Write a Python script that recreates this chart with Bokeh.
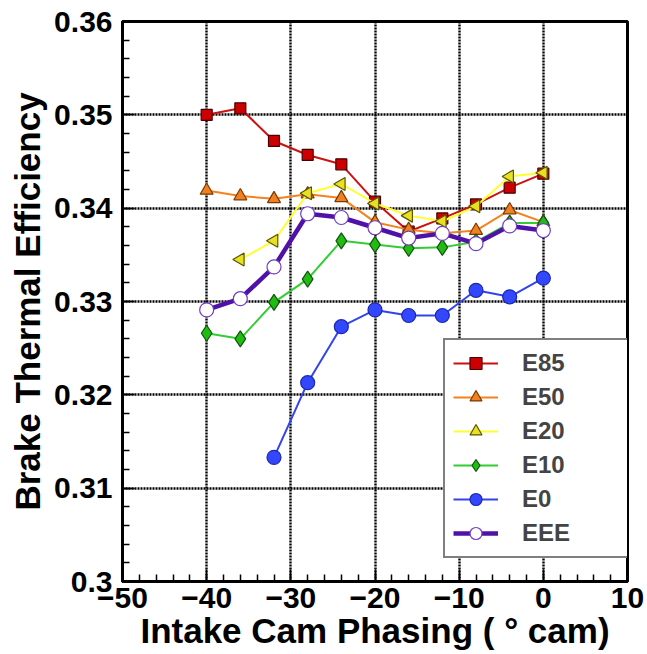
import numpy as np
from bokeh.plotting import figure
from bokeh.models import FixedTicker, NumeralTickFormatter, Legend, LegendItem
from bokeh.embed import file_html
from bokeh.resources import INLINE

# ---- data ----
x_full = [-40, -36, -32, -28, -24, -20, -16, -12, -8, -4, 0]
x_e20 = [-36, -32, -28, -24, -20, -16, -12, -8, -4, 0]
x_e0 = [-32, -28, -24, -20, -16, -12, -8, -4, 0]

e85 = [0.3500, 0.3507, 0.3472, 0.3457, 0.3447, 0.3407, 0.3375, 0.3389, 0.3404, 0.3422, 0.3437]
e50 = [0.3419, 0.3413, 0.3410, 0.3415, 0.3411, 0.3385, 0.3377, 0.3373, 0.3376, 0.3398, 0.3385]
e20 = [0.3345, 0.3365, 0.3416, 0.3426, 0.3405, 0.3392, 0.3386, 0.3402, 0.3434, 0.3438]
e10 = [0.3266, 0.3260, 0.3299, 0.3324, 0.3365, 0.3361, 0.3357, 0.3358, 0.3364, 0.3384, 0.3384]
e0 = [0.3133, 0.3213, 0.3273, 0.3291, 0.3285, 0.3285, 0.3312, 0.3305, 0.3325]
eee = [0.3291, 0.3303, 0.3337, 0.3394, 0.3390, 0.3379, 0.3368, 0.3373, 0.3362, 0.3381, 0.3376]

x_ticks = [-50, -40, -30, -20, -10, 0, 10]
x_minor = [v for v in range(-50, 11, 2)]
y_ticks = [0.30, 0.31, 0.32, 0.33, 0.34, 0.35, 0.36]
y_minor = [round(0.30 + 0.002 * i, 3) for i in range(31)]

FONT = "Liberation Sans"

p = figure(width=645, height=652, x_range=(-50, 10), y_range=(0.30, 0.36),
           output_backend="svg", toolbar_location=None,
           min_border_left=122, min_border_right=18, min_border_top=21, min_border_bottom=71)

p.background_fill_color = "white"
p.border_fill_color = "white"
p.outline_line_color = "black"
p.outline_line_width = 3
p.outline_line_alpha = 1.0

for ax in (p.xaxis[0], p.yaxis[0]):
    ax.axis_line_width = 3
    ax.axis_line_color = "black"
    ax.major_tick_in = 12
    ax.major_tick_out = 0
    ax.minor_tick_in = 7
    ax.minor_tick_out = 0
    ax.major_tick_line_width = 1.5
    ax.minor_tick_line_width = 1.5
    ax.major_tick_line_color = "black"
    ax.minor_tick_line_color = "black"
    ax.major_label_text_font = FONT
    ax.major_label_text_font_style = "bold"
    ax.major_label_text_font_size = "30px"
    ax.major_label_text_color = "black"
    ax.axis_label_text_font = FONT
    ax.axis_label_text_font_style = "bold"
    ax.axis_label_text_font_size = "35px"
    ax.axis_label_text_color = "black"

p.xaxis[0].ticker = FixedTicker(ticks=x_ticks, minor_ticks=x_minor)
p.yaxis[0].ticker = FixedTicker(ticks=y_ticks, minor_ticks=y_minor)
p.yaxis[0].formatter = NumeralTickFormatter(format="0.0[0]")
p.xaxis[0].major_label_standoff = 6
p.yaxis[0].major_label_standoff = 10
p.xaxis[0].axis_label_standoff = 0
p.yaxis[0].axis_label_standoff = 4
p.xaxis[0].axis_label = "Intake Cam Phasing ( \u00b0 cam)"
p.yaxis[0].axis_label = "Brake Thermal Efficiency"

p.xgrid[0].ticker = FixedTicker(ticks=x_ticks)
p.ygrid[0].ticker = FixedTicker(ticks=y_ticks)
for g in (p.xgrid[0], p.ygrid[0]):
    g.grid_line_color = "black"
    g.grid_line_width = 2.4
    g.grid_line_dash = "2 1"
    g.grid_line_alpha = 1.0

items = []

def series(label, xs, ys, line_color, lw, marker, fill, outline, size, angle=0.0):
    r1 = p.line(xs, ys, line_color=line_color, line_width=lw)
    r2 = p.scatter(xs, ys, marker=marker, size=size, fill_color=fill,
                   line_color=outline, line_width=1.2, angle=angle)
    items.append(LegendItem(label=label, renderers=[r1, r2]))

series("E85", x_full, e85, "#CC1111", 2, "square", "#CC0000", "#4A0000", 11)
series("E50", x_full, e50, "#F5821F", 2, "triangle", "#F08020", "#7A3A00", 13)
series("E20", x_e20, e20, "#FFFF30", 2, "triangle", "#E8E020", "#5A5500", 13, angle=np.pi / 2)
series("E10", x_full, e10, "#33CC33", 2, "diamond", "#22BB11", "#0E550E", 16)
series("E0", x_e0, e0, "#3344EE", 2, "circle", "#3347FF", "#1A2AAA", 14)
series("EEE", x_full, eee, "#5011A8", 4.5, "circle", "white", "#7040C0", 14)

legend = Legend(items=items, location=(321, 23))
legend.border_line_color = "black"
legend.border_line_width = 2
legend.background_fill_color = "white"
legend.background_fill_alpha = 1.0
legend.label_text_font = FONT
legend.label_text_font_style = "bold"
legend.label_text_font_size = "24px"
legend.glyph_width = 45
legend.glyph_height = 30
legend.label_height = 30
legend.label_width = 98
legend.label_standoff = 24
legend.spacing = 4
legend.padding = 8
legend.margin = 0
p.add_layout(legend, "center")

open("out.html", "w").write(file_html(p, INLINE))
